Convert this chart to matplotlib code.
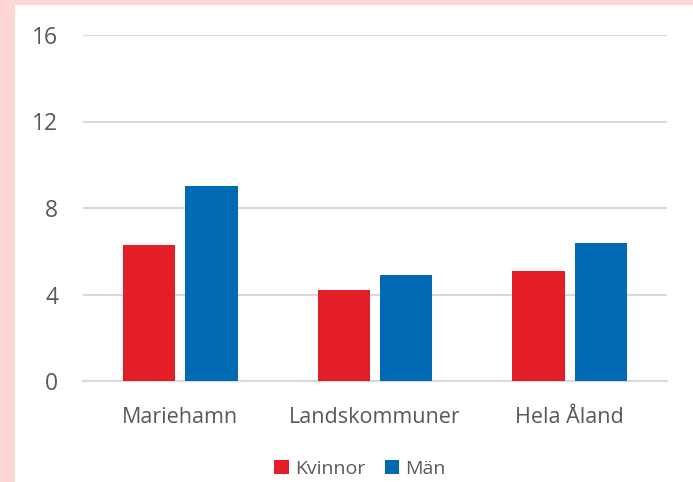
import matplotlib.pyplot as plt
import matplotlib.patches as mpatches
import numpy as np

plt.rcParams['font.family'] = ['Open Sans', 'DejaVu Sans']

# Data
categories = ['Mariehamn', 'Landskommuner', 'Hela Åland']
kvinnor = [6.3, 4.2, 5.1]
man = [9.0, 4.9, 6.4]
series_names = ['Kvinnor', 'Män']
yticks = [0, 4, 8, 12, 16]

red = '#E31E27'
blue = '#006AB4'
text_col = '#595959'
grid_col = '#D9D9D9'

W, H = 693, 482
fig = plt.figure(figsize=(W / 100, H / 100), dpi=100)
fig.patch.set_facecolor('#FFD6D8')

# white panel (pink frame on left and top)
fig.patches.append(mpatches.Rectangle((15 / W, 0), 1 - 15 / W, 1 - 5 / H,
                                      transform=fig.transFigure,
                                      facecolor='white', edgecolor='none', zorder=-5))

ax = fig.add_axes([83 / W, 1 - 381 / H, (667 - 83) / W, (381 - 35) / H])
ax.set_zorder(5)
ax.set_facecolor('none')

x = np.arange(len(categories))
bw = 0.27
gap = 0.05
ax.bar(x - (bw + gap) / 2, kvinnor, bw, color=red, label=series_names[0], zorder=3)
ax.bar(x + (bw + gap) / 2, man, bw, color=blue, label=series_names[1], zorder=3)

ax.set_xlim(-0.5, len(categories) - 0.5)
ax.set_ylim(0, 16)
ax.set_yticks(yticks)
ax.set_yticklabels([str(v) for v in yticks])
ax.set_xticks(x)
ax.set_xticklabels(categories)

ax.grid(axis='y', color=grid_col, linewidth=1.5, zorder=0)
ax.set_axisbelow(True)
for s in ['top', 'right', 'left']:
    ax.spines[s].set_visible(False)
ax.spines['bottom'].set_color(grid_col)
ax.spines['bottom'].set_linewidth(1.5)

ax.tick_params(axis='both', length=0, colors=text_col)
ax.tick_params(axis='y', pad=18, labelsize=16.5)
ax.tick_params(axis='x', pad=19, labelsize=15.5)

leg = fig.legend(loc='center', bbox_to_anchor=(360 / W, 1 - 469 / H), ncol=2,
                 frameon=False, fontsize=14, handlelength=0.75, handleheight=0.75,
                 handletextpad=0.3, columnspacing=1.0, labelcolor=text_col)
leg.set_zorder(6)

fig.savefig('out.png', dpi=100, facecolor=fig.get_facecolor())
